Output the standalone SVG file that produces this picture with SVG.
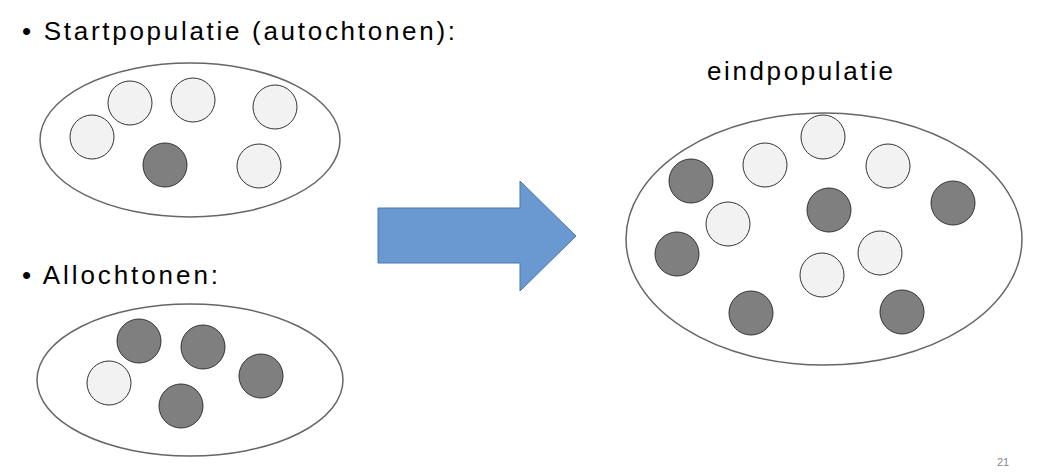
<svg xmlns="http://www.w3.org/2000/svg" width="1042" height="476" viewBox="0 0 1042 476">
<style>
.e{fill:#fff;stroke:#666;stroke-width:1.5}
.l{fill:#f2f2f2;stroke:#333;stroke-width:1}
.d{fill:#7f7f7f;stroke:#333;stroke-width:1}
text{font-family:"Liberation Sans","Open Sans",sans-serif;fill:#000}
.t{font-size:26px}
</style>
<rect width="1042" height="476" fill="#fff"/>
<text class="t" x="22" y="40" textLength="433">• Startpopulatie (autochtonen):</text>
<text class="t" x="22" y="284" textLength="196">• Allochtonen:</text>
<text class="t" x="707" y="80" textLength="186">eindpopulatie</text>
<text x="997" y="466" font-size="11" style="fill:#888">21</text>
<g id="start">
<ellipse class="e" cx="190" cy="140" rx="150" ry="77"/>
<circle class="l" cx="92" cy="137" r="22"/><circle class="l" cx="130" cy="103" r="22"/>
<circle class="l" cx="193" cy="100" r="22"/><circle class="l" cx="275" cy="107" r="22"/>
<circle class="d" cx="165" cy="165" r="22"/><circle class="l" cx="259" cy="166" r="22"/>
</g>
<g id="allo">
<ellipse class="e" cx="190" cy="380" rx="153" ry="76"/>
<circle class="d" cx="139" cy="341" r="22"/><circle class="d" cx="203" cy="347" r="22"/>
<circle class="d" cx="261" cy="376" r="22"/><circle class="l" cx="109" cy="383" r="22"/>
<circle class="d" cx="181" cy="406" r="22"/>
</g>
<g id="eind">
<ellipse class="e" cx="824" cy="239" rx="198" ry="126"/>
<circle class="l" cx="823" cy="137" r="22"/><circle class="l" cx="765" cy="165" r="22"/>
<circle class="l" cx="888" cy="166" r="22"/><circle class="d" cx="691" cy="181" r="22"/>
<circle class="d" cx="953" cy="203" r="22"/><circle class="d" cx="829" cy="210" r="22"/>
<circle class="l" cx="728" cy="224" r="22"/><circle class="l" cx="880" cy="253" r="22"/>
<circle class="d" cx="677" cy="254" r="22"/><circle class="l" cx="822" cy="275" r="22"/>
<circle class="d" cx="751" cy="313" r="22"/><circle class="d" cx="902" cy="312" r="22"/>
</g>
<g id="connectors">
<polygon points="378,208 520,208 520,181 576,236 520,291 520,263 378,263" fill="#6a98d0" stroke="#4a76a8" stroke-width="1"/>
</g>
</svg>
